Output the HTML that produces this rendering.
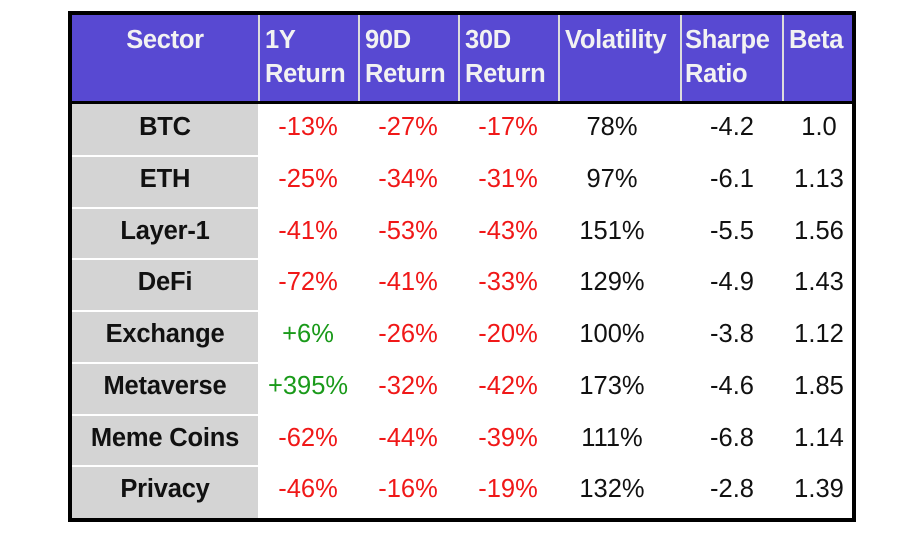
<!DOCTYPE html>
<html><head><style>
body{margin:0;width:909px;height:538px;background:#fff;position:relative;font-family:"Liberation Sans",Arial,sans-serif;overflow:hidden}
.box{position:absolute;left:68px;top:11px;width:780px;height:503px;border:4px solid #000;background:#fff}
.hdr{position:absolute;left:0;top:0;width:780px;height:86px;background:#5849d2;border-bottom:3px solid #000}
.h{position:absolute;top:0;height:86px;color:#f2f2f2;font-weight:bold;font-size:25.5px;line-height:34px;padding-top:8px;box-sizing:border-box;padding-left:5px;border-left:2px solid #ddd;white-space:nowrap;letter-spacing:-0.3px}
.side{position:absolute;left:0;top:89px;width:186px;height:414px;background:#d4d4d4}
.c{position:absolute;height:52px;line-height:46px;font-size:25.5px;text-align:center;white-space:nowrap}
.s{font-weight:bold;color:#111;letter-spacing:-0.2px}
.r{color:#f01818}.g{color:#1a9a1a}.k{color:#111}
.sep{position:absolute;left:0;width:186px;height:2px;background:#fff}
</style></head><body>
<div class="box">
<div class="hdr">
<div class="h" style="left:0;width:186px;text-align:center;border-left:none;padding-left:0">Sector</div>
<div class="h" style="left:186px;width:100px">1Y<br>Return</div>
<div class="h" style="left:286px;width:100px">90D<br>Return</div>
<div class="h" style="left:386px;width:100px">30D<br>Return</div>
<div class="h" style="left:486px;width:122px">Volatility</div>
<div class="h" style="left:608px;width:102px;padding-left:3px">Sharpe<br>Ratio</div>
<div class="h" style="left:710px;width:70px">Beta</div>
</div>
<div class="side"></div>
<div id="rows"></div>
</div>
<script>
var d=[["BTC","-13%","-27%","-17%","78%","-4.2","1.0"],["ETH","-25%","-34%","-31%","97%","-6.1","1.13"],["Layer-1","-41%","-53%","-43%","151%","-5.5","1.56"],["DeFi","-72%","-41%","-33%","129%","-4.9","1.43"],["Exchange","+6%","-26%","-20%","100%","-3.8","1.12"],["Metaverse","+395%","-32%","-42%","173%","-4.6","1.85"],["Meme Coins","-62%","-44%","-39%","111%","-6.8","1.14"],["Privacy","-46%","-16%","-19%","132%","-2.8","1.39"]];
var cols=[[0,186],[186,100],[286,100],[386,100],[486,108],[600,120],[710,74]];
var h="";
d.forEach(function(r,i){var t=89+i*51.75;
if(i>0)h+='<div class="sep" style="top:'+(t-1)+'px"></div>';
r.forEach(function(v,j){var cl=j==0?"s":(j<=3?(v[0]=="+"?"g":"r"):"k");
h+='<div class="c '+cl+'" style="top:'+t+'px;left:'+cols[j][0]+'px;width:'+cols[j][1]+'px">'+v+'</div>';});});
document.getElementById("rows").innerHTML=h;
</script>
</body></html>
